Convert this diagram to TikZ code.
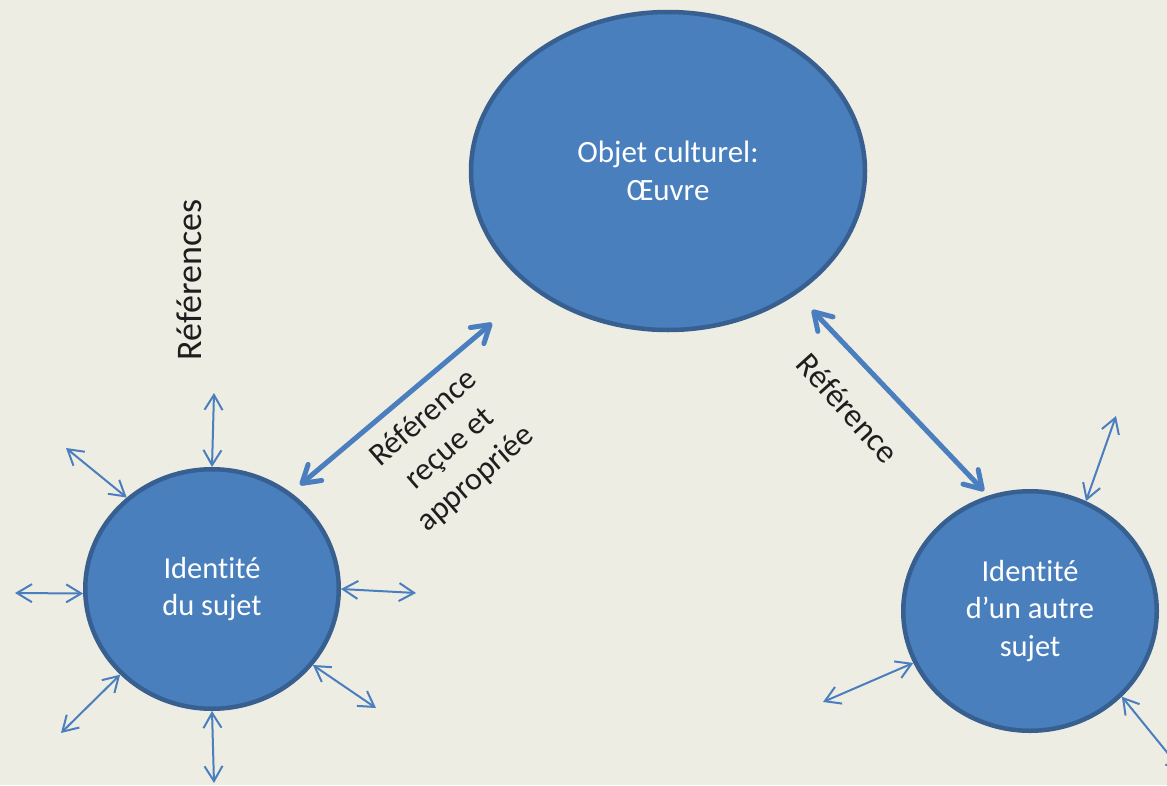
\documentclass[tikz,border=0pt]{standalone}
\usepackage{fontspec}
\setmainfont{Carlito}[Ligatures=NoCommon]
\usetikzlibrary{shapes.geometric,arrows.meta}
\definecolor{bgcol}{HTML}{EEEDE3}
\definecolor{discfill}{HTML}{4A7FBE}
\definecolor{discline}{HTML}{375F90}
\definecolor{arrowcol}{HTML}{4A7EBE}
\definecolor{inkcol}{HTML}{1E1E1E}
\begin{document}
\begin{tikzpicture}[x=1pt,y=-1pt,
  disc/.style={ellipse, draw=discline, fill=discfill, line width=4.5pt,
    inner sep=0pt, text=white, align=center,
    font=\fontsize{30.5}{37.5}\selectfont},
  bigarrow/.style={draw=arrowcol, line width=5pt, line cap=round,
    >={Straight Barb[length=17pt,width=21pt,round]}, <->},
  ray/.style={draw=arrowcol, line width=2pt,
    >={Straight Barb[length=15pt,width=18pt]}, <->},
  lbl/.style={text=inkcol, align=center, inner sep=0pt}
]
\useasboundingbox (0,0) rectangle (1167,785);
\fill[bgcol] (0,0) rectangle (1167,785);
\clip (0,0) rectangle (1167,785);

% main shapes
\node[disc, minimum width=394pt, minimum height=318pt,
  font=\fontsize{31}{38}\selectfont] (oeuvre) at (668,171) {Objet culturel:\\Œuvre};
\node[disc, minimum width=253.5pt, minimum height=239.5pt] (sujet) at (212,589) {Identité\\du sujet};
\node[disc, minimum width=253.5pt, minimum height=239.5pt] (autre) at (1030,611) {Identité\\d’un autre\\sujet};

% labels
\node[lbl, rotate=90, font=\fontsize{36}{44}\selectfont] (refs) at (189,280) {Références};
\node[lbl, rotate=41, font=\fontsize{32}{40}\selectfont] (recue) at (450,449) {Référence\\reçue et\\appropriée};
\node[lbl, rotate=-48, font=\fontsize{33}{40}\selectfont] (refb) at (848,408) {Référence};

% thick double arrows between the subjects and the work
\coordinate (p1) at (300,485);
\coordinate (p2) at (492,323);
\draw[bigarrow] (p1) -- (p2);
\coordinate (q1) at (812,310);
\coordinate (q2) at (984,491);
\draw[bigarrow] (q1) -- (q2);

% rays around the subject
\coordinate (s1) at (214,393);
\coordinate (s2) at (66,448);
\coordinate (s3) at (15,593);
\coordinate (s4) at (416,593);
\coordinate (s5) at (376,708);
\coordinate (s6) at (61,733);
\coordinate (s7) at (214,783);
\draw[ray] (sujet.90) -- (s1);
\draw[ray] (sujet.133) -- (s2);
\draw[ray] (sujet.182) -- (s3);
\draw[ray] (sujet.0) -- (s4);
\draw[ray] (sujet.-37) -- (s5);
\draw[ray] (sujet.223) -- (s6);
\draw[ray] (sujet.270) -- (s7);

% rays around the other subject
\coordinate (r1) at (1116,416);
\coordinate (r2) at (823,702);
\coordinate (r3) at (1183,772);
\draw[ray] (autre.63) -- (r1);
\draw[ray] (autre.204) -- (r2);
\draw[ray] (autre.-43) -- (r3);
\end{tikzpicture}
\end{document}
